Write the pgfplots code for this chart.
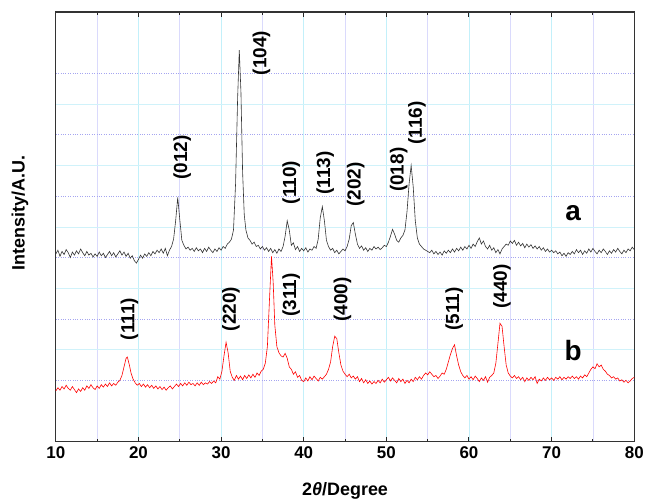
\documentclass[border=0pt]{standalone}
\usepackage{fontspec}
\setmainfont{Liberation Sans}
\usepackage{pgfplots}
\pgfplotsset{compat=1.18}
\definecolor{majgridx}{RGB}{195,240,250}
\definecolor{mingridx}{RGB}{218,218,252}
\definecolor{majgridy}{RGB}{165,165,240}
\definecolor{mingridy}{RGB}{208,242,250}
\begin{document}
\begin{tikzpicture}
\begin{axis}[
  width=580pt, height=431pt, scale only axis,
  xmin=10, xmax=80, ymin=0, ymax=7,
  xtick={10,20,...,80}, minor x tick num=1,
  ytick={1,2,...,6}, minor y tick num=1, yticklabels={},
  y tick style={draw=none}, minor y tick style={draw=none},
  tick align=inside, major tick length=5pt, minor tick length=3pt,
  x tick style={black!85, line width=1pt},
  grid=both,
  major x grid style={majgridx, line width=0.7pt},
  minor x grid style={mingridx, line width=0.7pt},
  major y grid style={majgridy, dotted, line width=0.9pt},
  minor y grid style={mingridy, line width=0.7pt},
  axis line style={black!80, line width=1.3pt},
  /pgf/number format/assume math mode=true,
  xticklabel style={font=\bfseries\fontsize{17}{17}\selectfont, yshift=-1pt},
  xlabel={\textbf{2\textit{θ}/Degree}},
  ylabel={\textbf{Intensity/A.U.}},
  xlabel style={font=\fontsize{18}{18}\selectfont, at={(axis description cs:0.5,-0.114)}, anchor=center},
  ylabel style={font=\fontsize{18}{18}\selectfont, at={(axis description cs:-0.062,0.532)}, anchor=center},
  clip=false,
]
\addplot[black!80, line width=0.6pt] table {
10.0 3.06
10.25 3.12
10.5 3.02
10.75 3.10
11.0 3.05
11.25 3.13
11.5 3.08
11.75 3.00
12.0 3.09
12.25 3.04
12.5 3.11
12.75 3.06
13.0 3.14
13.25 3.08
13.5 3.03
13.75 3.10
14.0 3.04
14.25 3.07
14.5 3.01
14.75 3.06
15.0 3.02
15.25 3.09
15.5 3.03
15.75 3.07
16.0 3.00
16.25 3.05
16.5 3.10
16.75 3.03
17.0 3.08
17.25 3.01
17.5 3.06
17.75 3.11
18.0 3.04
18.25 3.09
18.5 3.02
18.75 3.07
19.0 2.99
19.25 3.03
19.5 2.95
19.75 2.91
20.0 2.97
20.25 3.04
20.5 2.99
20.75 3.06
21.0 3.02
21.25 3.08
21.5 3.03
21.75 3.10
22.0 3.06
22.25 3.12
22.5 3.08
22.75 3.14
23.0 3.07
23.25 3.15
23.5 3.03
23.75 3.12
24.0 3.18
24.25 3.30
24.5 3.60
24.75 3.98
25.0 3.62
25.25 3.28
25.5 3.20
25.75 3.14
26.0 3.17
26.25 3.12
26.5 3.15
26.75 3.10
27.0 3.16
27.25 3.11
27.5 3.14
27.75 3.08
28.0 3.15
28.25 3.10
28.5 3.17
28.75 3.12
29.0 3.08
29.25 3.14
29.5 3.10
29.75 3.16
30.0 3.12
30.25 3.18
30.5 3.15
30.75 3.22
31.0 3.25
31.25 3.30
31.5 3.45
31.75 4.2
32.0 5.6
32.2 6.38
32.4 5.7
32.6 4.4
32.8 3.7
33.0 3.45
33.25 3.32
33.5 3.28
33.75 3.22
34.0 3.25
34.25 3.18
34.5 3.20
34.75 3.14
35.0 3.18
35.25 3.12
35.5 3.16
35.75 3.10
36.0 3.15
36.25 3.08
36.5 3.13
36.75 3.07
37.0 3.14
37.25 3.10
37.5 3.18
37.75 3.35
38.0 3.60
38.25 3.45
38.5 3.20
38.75 3.24
39.0 3.13
39.25 3.18
39.5 3.10
39.75 3.15
40.0 3.11
40.25 3.16
40.5 3.09
40.75 3.14
41.0 3.12
41.25 3.18
41.5 3.15
41.75 3.30
42.0 3.65
42.25 3.83
42.5 3.60
42.75 3.28
43.0 3.18
43.25 3.12
43.5 3.15
43.75 3.08
44.0 3.12
44.25 3.06
44.5 3.10
44.75 3.14
45.0 3.11
45.25 3.18
45.5 3.30
45.75 3.52
46.0 3.57
46.25 3.38
46.5 3.22
46.75 3.15
47.0 3.19
47.25 3.12
47.5 3.16
47.75 3.10
48.0 3.15
48.25 3.12
48.5 3.18
48.75 3.14
49.0 3.17
49.25 3.13
49.5 3.16
49.75 3.20
50.0 3.18
50.25 3.25
50.5 3.35
50.75 3.46
51.0 3.38
51.25 3.28
51.5 3.25
51.75 3.32
52.0 3.36
52.25 3.45
52.5 3.75
52.75 4.20
53.0 4.50
53.25 4.15
53.5 3.60
53.75 3.32
54.0 3.22
54.25 3.18
54.5 3.14
54.75 3.12
55.0 3.10
55.25 3.08
55.5 3.12
55.75 3.06
56.0 3.10
56.25 3.05
56.5 3.09
56.75 3.04
57.0 3.11
57.25 3.07
57.5 3.12
57.75 3.08
58.0 3.14
58.25 3.09
58.5 3.15
58.75 3.11
59.0 3.17
59.25 3.12
59.5 3.18
59.75 3.14
60.0 3.20
60.25 3.15
60.5 3.22
60.75 3.18
61.0 3.26
61.25 3.32
61.5 3.22
61.75 3.27
62.0 3.18
62.25 3.14
62.5 3.20
62.75 3.12
63.0 3.16
63.25 3.08
63.5 3.13
63.75 3.06
64.0 3.14
64.25 3.18
64.5 3.22
64.75 3.20
65.0 3.27
65.25 3.23
65.5 3.28
65.75 3.20
66.0 3.25
66.25 3.19
66.5 3.23
66.75 3.16
67.0 3.22
67.25 3.17
67.5 3.21
67.75 3.15
68.0 3.19
68.25 3.14
68.5 3.18
68.75 3.12
69.0 3.16
69.25 3.10
69.5 3.14
69.75 3.09
70.0 3.12
70.25 3.08
70.5 3.11
70.75 3.06
71.0 3.09
71.25 3.03
71.5 3.07
71.75 3.02
72.0 3.08
72.25 3.05
72.5 3.10
72.75 3.06
73.0 3.13
73.25 3.08
73.5 3.12
73.75 3.05
74.0 3.11
74.25 3.07
74.5 3.14
74.75 3.09
75.0 3.15
75.25 3.10
75.5 3.06
75.75 3.12
76.0 3.08
76.25 3.14
76.5 3.10
76.75 3.05
77.0 3.11
77.25 3.07
77.5 3.13
77.75 3.09
78.0 3.15
78.25 3.10
78.5 3.06
78.75 3.12
79.0 3.08
79.25 3.14
79.5 3.11
79.75 3.17
80.0 3.13
};
\addplot[red, line width=0.6pt] table {
10.0 0.83
10.25 0.88
10.5 0.84
10.75 0.90
11.0 0.86
11.25 0.92
11.5 0.87
11.75 0.84
12.0 0.90
12.25 0.85
12.5 0.80
12.75 0.86
13.0 0.82
13.25 0.88
13.5 0.84
13.75 0.91
14.0 0.87
14.25 0.93
14.5 0.88
14.75 0.85
15.0 0.91
15.25 0.87
15.5 0.93
15.75 0.89
16.0 0.94
16.25 0.90
16.5 0.96
16.75 0.91
17.0 0.95
17.25 0.92
17.5 0.97
17.75 1.00
18.0 1.08
18.25 1.22
18.5 1.36
18.65 1.38
18.9 1.25
19.1 1.12
19.35 1.02
19.6 0.96
19.85 0.92
20.1 0.95
20.35 0.90
20.6 0.94
20.85 0.89
21.1 0.93
21.35 0.88
21.6 0.92
21.85 0.87
22.1 0.91
22.35 0.86
22.6 0.90
22.85 0.85
23.1 0.89
23.35 0.84
23.6 0.88
23.85 0.91
24.1 0.86
24.35 0.90
24.6 0.94
24.85 0.90
25.1 0.95
25.35 0.91
25.6 0.96
25.85 0.92
26.1 0.97
26.35 0.93
26.6 0.95
26.85 0.91
27.1 0.96
27.35 0.92
27.6 0.97
27.85 0.93
28.1 0.96
28.35 0.94
28.6 0.98
28.85 0.95
29.1 0.99
29.35 0.96
29.6 1.06
29.85 1.02
30.1 1.15
30.35 1.40
30.6 1.62
30.85 1.45
31.1 1.15
31.35 1.05
31.6 1.00
31.85 1.08
32.1 1.02
32.35 1.07
32.6 1.01
32.85 1.08
33.1 1.03
33.35 1.09
33.6 1.04
33.85 1.10
34.1 1.05
34.35 1.12
34.6 1.08
34.85 1.15
35.1 1.18
35.35 1.28
35.6 1.55
35.85 2.30
36.1 3.02
36.3 2.60
36.5 1.90
36.75 1.55
37.0 1.45
37.25 1.40
37.5 1.38
37.75 1.44
38.0 1.36
38.25 1.22
38.5 1.18
38.75 1.10
39.0 1.14
39.25 1.05
39.5 1.08
39.75 1.00
40.0 0.98
40.25 1.04
40.5 0.99
40.75 1.06
41.0 1.01
41.25 1.07
41.5 1.03
41.75 0.99
42.0 1.05
42.25 1.02
42.5 1.06
42.75 1.10
43.0 1.18
43.25 1.30
43.5 1.55
43.75 1.72
44.0 1.68
44.25 1.45
44.5 1.25
44.75 1.15
45.0 1.10
45.25 1.06
45.5 1.10
45.75 1.04
46.0 1.07
46.25 1.02
46.5 1.06
46.75 0.98
47.0 1.03
47.25 0.96
47.5 1.01
47.75 0.95
48.0 0.99
48.25 0.94
48.5 0.98
48.75 0.95
49.0 1.00
49.25 0.96
49.5 1.02
49.75 0.97
50.0 1.01
50.25 1.05
50.5 0.99
50.75 1.04
51.0 1.00
51.25 0.96
51.5 1.03
51.75 0.98
52.0 1.02
52.25 0.95
52.5 1.00
52.75 0.96
53.0 1.02
53.25 0.98
53.5 1.05
53.75 1.01
54.0 1.06
54.25 1.02
54.5 1.08
54.75 1.12
55.0 1.09
55.25 1.14
55.5 1.10
55.75 1.06
56.0 1.08
56.25 1.03
56.5 1.07
56.75 1.12
57.0 1.10
57.25 1.18
57.5 1.30
57.75 1.42
58.0 1.52
58.25 1.58
58.5 1.40
58.75 1.25
59.0 1.14
59.25 1.08
59.5 1.04
59.75 1.08
60.0 1.02
60.25 1.06
60.5 1.01
60.75 1.07
61.0 1.03
61.25 0.98
61.5 1.04
61.75 1.00
62.0 1.06
62.25 0.97
62.5 1.05
62.75 1.08
63.0 1.12
63.25 1.28
63.5 1.60
63.75 1.93
64.0 1.88
64.25 1.55
64.5 1.25
64.75 1.12
65.0 1.07
65.25 1.04
65.5 1.08
65.75 1.03
66.0 1.06
66.25 1.01
66.5 1.05
66.75 0.98
67.0 1.04
67.25 1.00
67.5 1.05
67.75 1.01
68.0 1.06
68.25 0.95
68.5 1.02
68.75 0.99
69.0 1.04
69.25 1.00
69.5 1.05
69.75 1.01
70.0 1.04
70.25 1.00
70.5 1.05
70.75 1.02
71.0 1.06
71.25 1.01
71.5 1.05
71.75 1.02
72.0 1.06
72.25 1.03
72.5 1.07
72.75 1.03
73.0 1.06
73.25 1.02
73.5 1.07
73.75 1.04
74.0 1.09
74.25 1.06
74.5 1.12
74.75 1.18
75.0 1.22
75.25 1.19
75.5 1.27
75.75 1.22
76.0 1.25
76.25 1.18
76.5 1.15
76.75 1.10
77.0 1.08
77.25 1.04
77.5 1.06
77.75 1.02
78.0 1.04
78.25 0.99
78.5 1.01
78.75 0.97
79.0 1.00
79.25 0.96
79.5 0.99
79.75 1.03
80.0 1.05
};
\begin{scope}[every node/.style={rotate=90, font=\bfseries\fontsize{19}{19}\selectfont, anchor=center, inner sep=0pt}]
\node at (axis cs:25.3,4.63) {(012)};
\node at (axis cs:34.9,6.33) {(104)};
\node at (axis cs:38.5,4.22) {(110)};
\node at (axis cs:42.6,4.38) {(113)};
\node at (axis cs:46.3,4.19) {(202)};
\node at (axis cs:51.5,4.43) {(018)};
\node at (axis cs:53.7,5.19) {(116)};
\node at (axis cs:18.9,2.00) {(111)};
\node at (axis cs:31.2,2.16) {(220)};
\node at (axis cs:38.5,2.39) {(311)};
\node at (axis cs:44.7,2.32) {(400)};
\node at (axis cs:58.2,2.16) {(511)};
\node at (axis cs:64.0,2.53) {(440)};
\end{scope}
\node[font=\bfseries\fontsize{28}{28}\selectfont, anchor=center] at (axis cs:72.6,3.73) {a};
\node[font=\bfseries\fontsize{28}{28}\selectfont, anchor=center] at (axis cs:72.6,1.48) {b};
\end{axis}
\path ([xshift=-56pt,yshift=-57pt]current axis.south west) rectangle ([xshift=11pt,yshift=12pt]current axis.north east);
\end{tikzpicture}
\end{document}
